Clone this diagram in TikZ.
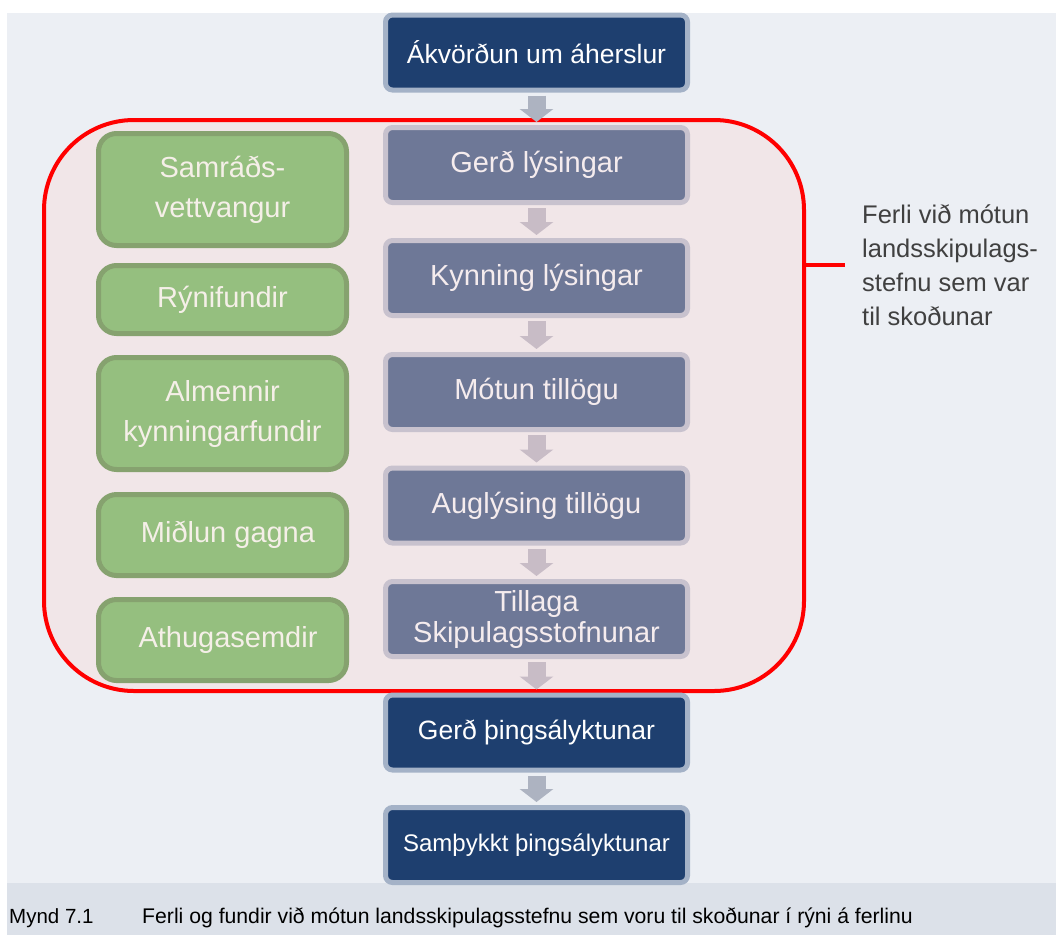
\documentclass[tikz,border=0pt]{standalone}
\usepackage{fontspec}
\setmainfont{Liberation Sans}
\usetikzlibrary{arrows.meta}

\definecolor{bgblue}{HTML}{ECEFF4}
\definecolor{capgrey}{HTML}{DCE1E9}
\definecolor{navy}{HTML}{1E3F6F}
\definecolor{navyedge}{HTML}{A4B2C7}
\definecolor{slate}{HTML}{6E7897}
\definecolor{slateedge}{HTML}{C8C2CE}
\definecolor{slatetext}{HTML}{F5ECEE}
\definecolor{pinkfill}{HTML}{F1E6E8}
\definecolor{leaf}{HTML}{95BF7F}
\definecolor{leafedge}{HTML}{86A26F}
\definecolor{leaftext}{HTML}{F5EFE8}
\definecolor{arrowblue}{HTML}{ADB3C1}
\definecolor{arrowpink}{HTML}{C8BCC6}
\definecolor{notegrey}{HTML}{404040}

\tikzset{
  stage/.style={draw=navyedge, fill=navy, text=white, line width=5pt,
    rounded corners=7pt, minimum width=302pt, minimum height=75pt,
    align=center, font=\fontsize{26.5}{31}\selectfont},
  substage/.style={stage, draw=slateedge, fill=slate, text=slatetext,
    font=\fontsize{29}{31}\selectfont},
  meeting/.style={draw=leafedge, fill=leaf, text=leaftext, line width=5pt,
    rounded corners=18pt, minimum width=248pt, align=center,
    font=\fontsize{29}{40}\selectfont},
  flow/.style={line width=18pt, -{Triangle[width=33pt,length=13pt]},
    shorten <=3pt, shorten >=3pt},
}

\begin{document}
\begin{tikzpicture}[x=1pt,y=1pt]
\useasboundingbox (0,0) rectangle (1056,-935);
\fill[bgblue] (7,-13) rectangle (1056,-883);
\fill[capgrey] (7,-883) rectangle (1056,-935);

% ferlid sem var til skodunar
\node[draw=red, fill=pinkfill, line width=4pt, rounded corners=90pt,
  minimum width=760pt, minimum height=571pt] (ferli) at (424,-405.5) {};

% adalferli
\node[stage] (akv) at (536.5,-52.5) {Ákvörðun um áherslur};
\node[substage] (lys) at (536.5,-165) {Gerð lýsingar};
\node[substage] (kynn) at (536.5,-278) {Kynning lýsingar};
\node[substage] (mot) at (536.5,-392) {Mótun tillögu};
\node[substage] (augl) at (536.5,-505.5) {Auglýsing tillögu};
\node[substage] (till) at (536.5,-619) {Tillaga\\Skipulagsstofnunar};
\node[stage] (thing) at (536.5,-732.5) {Gerð þingsályktunar};
\node[stage, font=\fontsize{24}{28}\selectfont] (samth) at (536.5,-845) {Samþykkt þingsályktunar};

% fundir og samrad
\node[meeting, minimum height=112pt] (samr) at (222.5,-189.5) {Samráðs-\\vettvangur};
\node[meeting, minimum height=68pt] (ryni) at (222.5,-299.5) {Rýnifundir};
\node[meeting, minimum height=112pt] (almenn) at (222.5,-413.5) {Almennir\\kynningarfundir};
\node[meeting, minimum height=81pt] (midl) at (222.5,-535) {\hspace*{11pt}Miðlun gagna};
\node[meeting, minimum height=81pt] (aths) at (222.5,-640) {\hspace*{11pt}Athugasemdir};

\draw[flow, arrowblue] (akv) -- (lys);
\draw[flow, arrowpink] (lys) -- (kynn);
\draw[flow, arrowpink] (kynn) -- (mot);
\draw[flow, arrowpink] (mot) -- (augl);
\draw[flow, arrowpink] (augl) -- (till);
\draw[flow, arrowpink] (till) -- (thing);
\draw[flow, arrowblue] (thing) -- (samth);

% skyring
\node[anchor=west, align=left, text=notegrey, inner xsep=17pt, inner ysep=0pt,
  font=\fontsize{25.5}{34}\selectfont] (skyr) at (845,-265)
  {Ferli við mótun\\landsskipulags-\\stefnu sem var\\til skoðunar};
\draw[red, line width=4pt] (ferli.east |- skyr.west) -- (skyr.west);

% myndatexti
\node[anchor=base west, inner sep=0pt, font=\fontsize{20.5}{24}\selectfont] (nr) at (9,-923) {Mynd 7.1};
\node[anchor=base west, inner sep=0pt, font=\fontsize{21.2}{24}\selectfont] (cap) at (142,-923)
  {Ferli og fundir við mótun landsskipulagsstefnu sem voru til skoðunar í rýni á ferlinu};
\end{tikzpicture}
\end{document}
